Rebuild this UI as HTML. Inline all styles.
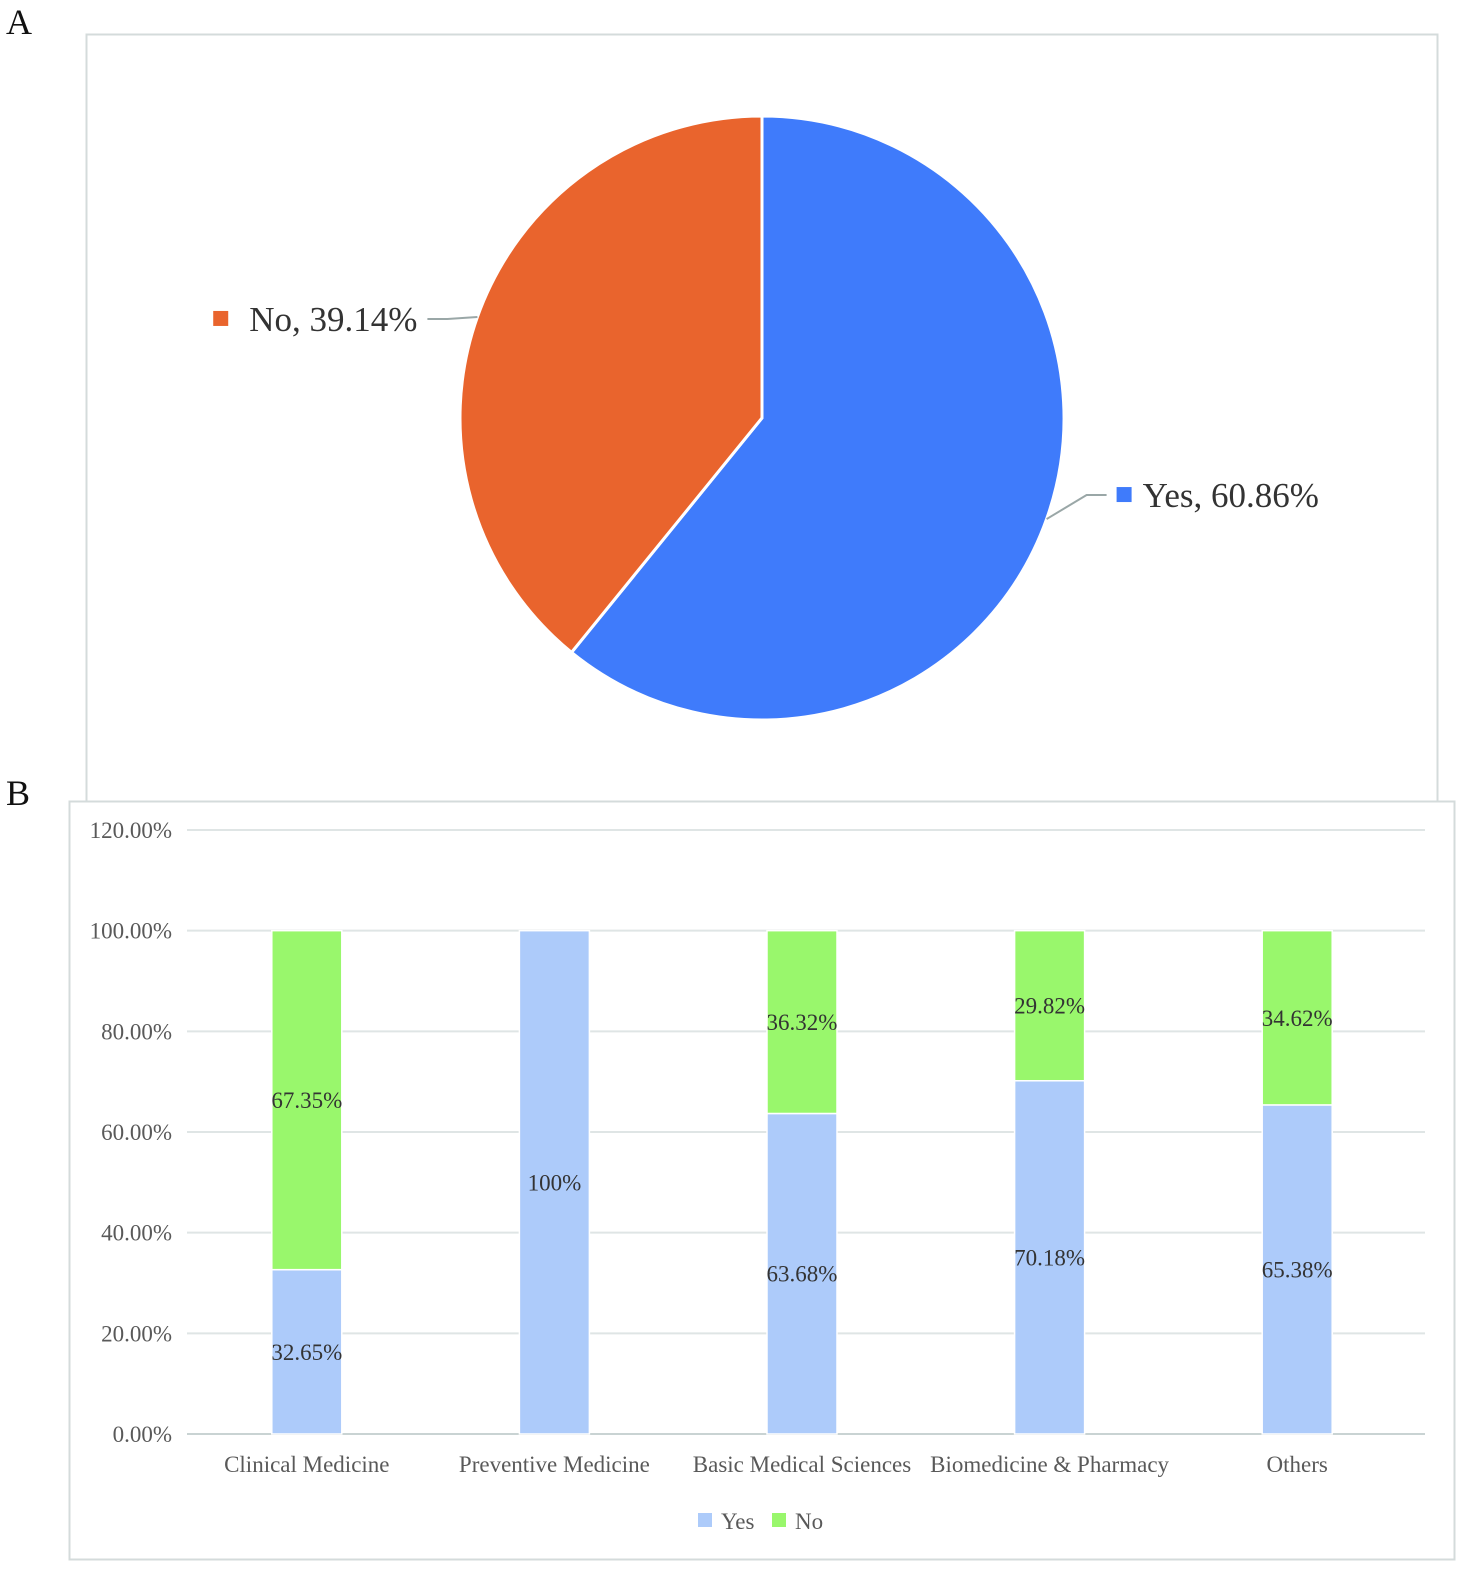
<!DOCTYPE html>
<html><head><meta charset="utf-8"><style>
body{margin:0;background:#fff;width:1477px;height:1583px;overflow:hidden;font-family:"Liberation Serif",serif;}
svg text{font-family:"Liberation Serif",serif;}
</style></head><body>
<svg width="1477" height="1583" viewBox="0 0 1477 1583">
<text x="6" y="34" font-size="36" fill="#111">A</text>
<rect x="86.5" y="34.5" width="1351" height="770" fill="#fff" stroke="#d4dbdb" stroke-width="2"/>
<g id="pie"></g>
<text x="6" y="805" font-size="36" fill="#111">B</text>
<rect x="69.5" y="801.5" width="1385" height="758" fill="#fff" stroke="#d4dbdb" stroke-width="2"/>
<g id="bars"></g>
</svg>
<script>
const pieLabels=["Yes","No"];
const pieValues=[60.86,39.14];
const pieColors=["#3F7BFB","#E9642D"];

const categories=["Clinical Medicine","Preventive Medicine","Basic Medical Sciences","Biomedicine & Pharmacy","Others"];
const yesValues=[32.65,100,63.68,70.18,65.38];
const noValues=[67.35,0,36.32,29.82,34.62];
const yesText=["32.65%","100%","63.68%","70.18%","65.38%"];
const noText=["67.35%","","36.32%","29.82%","34.62%"];
const yTicks=[0,20,40,60,80,100,120];

const NS="http://www.w3.org/2000/svg";
function mk(tag,attrs,parent){const e=document.createElementNS(NS,tag);for(const k in attrs)e.setAttribute(k,attrs[k]);parent.appendChild(e);return e;}

// Pie
const pie=document.getElementById('pie');
const cx=762,cy=418,r=302;
let total=pieValues.reduce((a,b)=>a+b,0);
let ang=0;
pieValues.forEach((v,i)=>{
  const a0=ang,a1=ang+v/total*2*Math.PI;ang=a1;
  const x0=cx+r*Math.sin(a0),y0=cy-r*Math.cos(a0),x1=cx+r*Math.sin(a1),y1=cy-r*Math.cos(a1);
  const large=(a1-a0)>Math.PI?1:0;
  const p=mk('path',{d:`M${cx},${cy}L${x0},${y0}A${r},${r} 0 ${large} 1 ${x1},${y1}Z`,fill:pieColors[i],stroke:'#fff','stroke-width':3},pie);
  
  
  const mid=(a0+a1)/2;
  const ex=cx+r*Math.sin(mid),ey=cy-r*Math.cos(mid);
  const txt=pieLabels[i]+", "+v.toFixed(2)+"%";
  const right=Math.sin(mid)>0;
  let lx,ly;
  if(right){lx=ex+40;ly=ey-24;}else{lx=ex-30;ly=ey+2;}
  const ln=mk('polyline',{points:`${ex},${ey} ${lx} ${ly} ${right?lx+20:lx-20},${ly}`,fill:'none',stroke:'#9aa7a7','stroke-width':2},pie);
  
  
  const g=mk('g',{},pie);
  
  
  if(right){
    mk('rect',{x:lx+30,y:ly-8,width:15,height:15,fill:pieColors[i]},g);
    const t=mk('text',{x:lx+56,y:ly+12,'font-size':35,fill:'#333'},g);t.textContent=txt;
  }else{
    const t=mk('text',{x:lx-30,y:ly+12,'font-size':35,fill:'#333','text-anchor':'end'},g);t.textContent=txt;
    const tw=t.getComputedTextLength?t.getComputedTextLength():170;
    mk('rect',{x:lx-30-tw-36,y:ly-8,width:15,height:15,fill:pieColors[i]},g);
  }
});

// Bars
const bars=document.getElementById('bars');
const y0px=1434,ymaxpx=830,ymax=120,x0=187,x1=1425;
const Y=v=>y0px-(v/ymax)*(y0px-ymaxpx);
const step=(x1-x0)/categories.length;
const X=i=>x0+step*(i+0.5)-4;
const bw=70;
yTicks.forEach(t=>{
  const l=mk('line',{x1:x0,x2:x1,y1:Y(t),y2:Y(t),stroke:t===0?'#c9d3d3':'#dfe5e5','stroke-width':2},bars);
  
  
  const tx=mk('text',{x:172,y:Y(t)+8,'font-size':23,fill:'#595959','text-anchor':'end'},bars);
  tx.textContent=t.toFixed(2)+"%";
  
  
});
categories.forEach((c,i)=>{
  const cx=X(i);
  const yb=mk('rect',{x:cx-bw/2,y:Y(yesValues[i]),width:bw,height:Y(0)-Y(yesValues[i]),fill:'#ADCBFA',stroke:'#fff','stroke-width':1.5},bars);
  
  
  if(noValues[i]>0){
    const nb=mk('rect',{x:cx-bw/2,y:Y(yesValues[i]+noValues[i]),width:bw,height:Y(yesValues[i])-Y(yesValues[i]+noValues[i]),fill:'#99F76C',stroke:'#fff','stroke-width':1.5},bars);
    
    
    const nt=mk('text',{x:cx,y:Y(yesValues[i]+noValues[i]/2)+8,'font-size':23,fill:'#333','text-anchor':'middle'},bars);
    nt.textContent=noText[i];
    
    
  }
  const yt=mk('text',{x:cx,y:Y(yesValues[i]/2)+8,'font-size':23,fill:'#333','text-anchor':'middle'},bars);
  yt.textContent=yesText[i];
  
  
  const xl=mk('text',{x:cx,y:1472,'font-size':23,fill:'#595959','text-anchor':'middle'},bars);
  xl.textContent=c;
  
  
});
const lg=mk('g',{},bars);


const l1=mk('g',{},lg);


mk('rect',{x:698,y:1513,width:14,height:14,fill:'#ADCBFA'},l1);
mk('text',{x:721,y:1529,'font-size':23,fill:'#595959'},l1).textContent="Yes";
const l2=mk('g',{},lg);


mk('rect',{x:772,y:1513,width:14,height:14,fill:'#99F76C'},l2);
mk('text',{x:795,y:1529,'font-size':23,fill:'#595959'},l2).textContent="No";
</script>
</body></html>
